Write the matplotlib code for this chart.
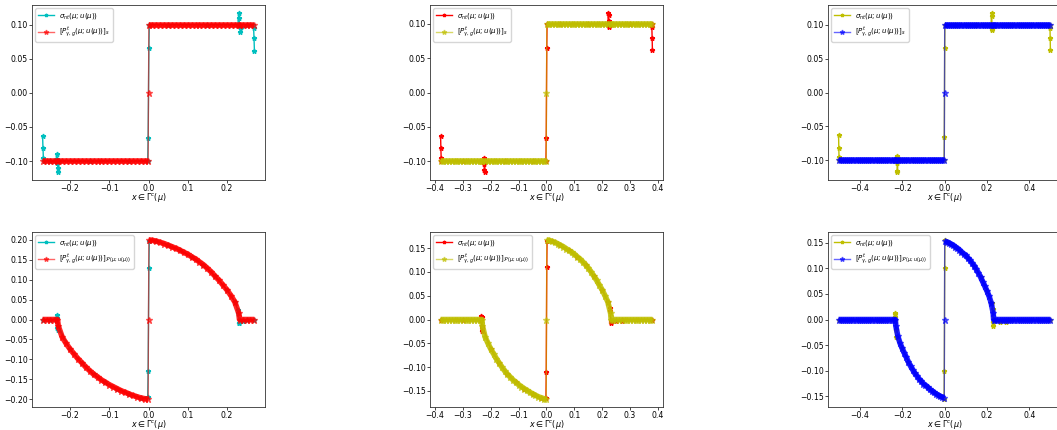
import matplotlib
matplotlib.use("Agg")
import matplotlib.pyplot as plt
from matplotlib.ticker import MultipleLocator

# ---------------- data ----------------
# x-grids of the projected quantity P (one per column, shared by both rows)
X1 = [-0.27, -0.26, -0.25, -0.24, -0.232,
      -0.23, -0.22, -0.21, -0.20, -0.19, -0.18, -0.17, -0.16, -0.15, -0.14, -0.13, -0.12,
      -0.11, -0.10, -0.09, -0.08, -0.07, -0.06, -0.05, -0.04, -0.03, -0.02, -0.01,
      -0.001, 0.0, 0.001,
      0.01, 0.02, 0.03, 0.04, 0.05, 0.06, 0.07, 0.08, 0.09, 0.10, 0.11, 0.12, 0.13,
      0.14, 0.15, 0.16, 0.17, 0.18, 0.19, 0.20, 0.21, 0.22, 0.23,
      0.232, 0.24, 0.25, 0.26, 0.27]
X2 = [-0.38, -0.37, -0.36, -0.35, -0.34, -0.33, -0.32, -0.31, -0.30, -0.29, -0.28, -0.27,
      -0.26, -0.25, -0.24, -0.232,
      -0.23, -0.22, -0.21, -0.20, -0.19, -0.18, -0.17, -0.16, -0.15, -0.14, -0.13, -0.12,
      -0.11, -0.10, -0.09, -0.08, -0.07, -0.06, -0.05, -0.04, -0.03, -0.02, -0.01,
      -0.001, 0.0, 0.001,
      0.01, 0.02, 0.03, 0.04, 0.05, 0.06, 0.07, 0.08, 0.09, 0.10, 0.11, 0.12, 0.13,
      0.14, 0.15, 0.16, 0.17, 0.18, 0.19, 0.20, 0.21, 0.22, 0.23,
      0.232, 0.24, 0.25, 0.26, 0.27, 0.28, 0.29, 0.30, 0.31, 0.32, 0.33, 0.34, 0.35,
      0.36, 0.37, 0.38]
X3 = [-0.50, -0.49, -0.48, -0.47, -0.46, -0.45, -0.44, -0.43, -0.42, -0.41, -0.40, -0.39,
      -0.38, -0.37, -0.36, -0.35, -0.34, -0.33, -0.32, -0.31, -0.30, -0.29, -0.28, -0.27,
      -0.26, -0.25, -0.24, -0.232,
      -0.23, -0.22, -0.21, -0.20, -0.19, -0.18, -0.17, -0.16, -0.15, -0.14, -0.13, -0.12,
      -0.11, -0.10, -0.09, -0.08, -0.07, -0.06, -0.05, -0.04, -0.03, -0.02, -0.01,
      -0.001, 0.0, 0.001,
      0.01, 0.02, 0.03, 0.04, 0.05, 0.06, 0.07, 0.08, 0.09, 0.10, 0.11, 0.12, 0.13,
      0.14, 0.15, 0.16, 0.17, 0.18, 0.19, 0.20, 0.21, 0.22, 0.23,
      0.232, 0.24, 0.25, 0.26, 0.27, 0.28, 0.29, 0.30, 0.31, 0.32, 0.33, 0.34, 0.35,
      0.36, 0.37, 0.38, 0.39, 0.40, 0.41, 0.42, 0.43, 0.44, 0.45, 0.46, 0.47, 0.48,
      0.49, 0.50]

# top row: projected value P (threshold +-0.1)
T1 = [-0.1, -0.1, -0.1, -0.1, -0.1,
      -0.1, -0.1, -0.1, -0.1, -0.1, -0.1, -0.1, -0.1, -0.1, -0.1, -0.1, -0.1,
      -0.1, -0.1, -0.1, -0.1, -0.1, -0.1, -0.1, -0.1, -0.1, -0.1, -0.1,
      -0.1, 0.0, 0.1,
      0.1, 0.1, 0.1, 0.1, 0.1, 0.1, 0.1, 0.1, 0.1, 0.1, 0.1, 0.1, 0.1,
      0.1, 0.1, 0.1, 0.1, 0.1, 0.1, 0.1, 0.1, 0.1, 0.1,
      0.1, 0.1, 0.1, 0.1, 0.1]
T2 = [-0.1, -0.1, -0.1, -0.1, -0.1, -0.1, -0.1, -0.1, -0.1, -0.1, -0.1, -0.1,
      -0.1, -0.1, -0.1, -0.1,
      -0.1, -0.1, -0.1, -0.1, -0.1, -0.1, -0.1, -0.1, -0.1, -0.1, -0.1, -0.1,
      -0.1, -0.1, -0.1, -0.1, -0.1, -0.1, -0.1, -0.1, -0.1, -0.1, -0.1,
      -0.1, 0.0, 0.1,
      0.1, 0.1, 0.1, 0.1, 0.1, 0.1, 0.1, 0.1, 0.1, 0.1, 0.1, 0.1, 0.1,
      0.1, 0.1, 0.1, 0.1, 0.1, 0.1, 0.1, 0.1, 0.1, 0.1,
      0.1, 0.1, 0.1, 0.1, 0.1, 0.1, 0.1, 0.1, 0.1, 0.1, 0.1, 0.1, 0.1,
      0.1, 0.1, 0.1]
T3 = [-0.1, -0.1, -0.1, -0.1, -0.1, -0.1, -0.1, -0.1, -0.1, -0.1, -0.1, -0.1,
      -0.1, -0.1, -0.1, -0.1, -0.1, -0.1, -0.1, -0.1, -0.1, -0.1, -0.1, -0.1,
      -0.1, -0.1, -0.1, -0.1,
      -0.1, -0.1, -0.1, -0.1, -0.1, -0.1, -0.1, -0.1, -0.1, -0.1, -0.1, -0.1,
      -0.1, -0.1, -0.1, -0.1, -0.1, -0.1, -0.1, -0.1, -0.1, -0.1, -0.1,
      -0.1, 0.0, 0.1,
      0.1, 0.1, 0.1, 0.1, 0.1, 0.1, 0.1, 0.1, 0.1, 0.1, 0.1, 0.1, 0.1,
      0.1, 0.1, 0.1, 0.1, 0.1, 0.1, 0.1, 0.1, 0.1, 0.1,
      0.1, 0.1, 0.1, 0.1, 0.1, 0.1, 0.1, 0.1, 0.1, 0.1, 0.1, 0.1, 0.1,
      0.1, 0.1, 0.1, 0.1, 0.1, 0.1, 0.1, 0.1, 0.1, 0.1, 0.1, 0.1, 0.1,
      0.1, 0.1]

# bottom row: projected value P (Coulomb-type curves)
B1 = [0, 0, 0, 0, 0,
      -0.016, -0.044, -0.060, -0.074, -0.086, -0.098, -0.108, -0.119, -0.128, -0.137, -0.144, -0.151,
      -0.157, -0.163, -0.168, -0.173, -0.178, -0.182, -0.186, -0.190, -0.193, -0.196, -0.198,
      -0.199, 0.0, 0.199,
      0.198, 0.196, 0.193, 0.190, 0.186, 0.182, 0.178, 0.173, 0.168, 0.163, 0.157, 0.151, 0.144,
      0.137, 0.128, 0.119, 0.108, 0.098, 0.086, 0.074, 0.060, 0.044, 0.016,
      0, 0, 0, 0, 0]
B2 = [0, 0, 0, 0, 0, 0, 0, 0, 0, 0, 0, 0,
      0, 0, 0, 0,
      -0.013, -0.037, -0.050, -0.062, -0.072, -0.082, -0.091, -0.100, -0.108, -0.115, -0.121, -0.127,
      -0.132, -0.137, -0.141, -0.145, -0.149, -0.153, -0.156, -0.159, -0.162, -0.164, -0.166,
      -0.167, 0.0, 0.167,
      0.166, 0.164, 0.162, 0.159, 0.156, 0.153, 0.149, 0.145, 0.141, 0.137, 0.132, 0.127, 0.121,
      0.115, 0.108, 0.100, 0.091, 0.082, 0.072, 0.062, 0.050, 0.037, 0.013,
      0, 0, 0, 0, 0, 0, 0, 0, 0, 0, 0, 0, 0,
      0, 0, 0]
B3 = [0, 0, 0, 0, 0, 0, 0, 0, 0, 0, 0, 0,
      0, 0, 0, 0, 0, 0, 0, 0, 0, 0, 0, 0,
      0, 0, 0, 0,
      -0.012, -0.033, -0.046, -0.056, -0.065, -0.074, -0.083, -0.091, -0.098, -0.105, -0.110, -0.116,
      -0.120, -0.125, -0.128, -0.132, -0.136, -0.139, -0.142, -0.145, -0.147, -0.150, -0.151,
      -0.152, 0.0, 0.152,
      0.151, 0.150, 0.147, 0.145, 0.142, 0.139, 0.136, 0.132, 0.128, 0.125, 0.120, 0.116, 0.110,
      0.105, 0.098, 0.091, 0.083, 0.074, 0.065, 0.056, 0.046, 0.033, 0.012,
      0, 0, 0, 0, 0, 0, 0, 0, 0, 0, 0, 0, 0,
      0, 0, 0, 0, 0, 0, 0, 0, 0, 0, 0, 0, 0,
      0, 0]

# exact sigma (drawn underneath); mostly hidden by P except its oscillations
S1T_x = [-0.27, -0.269, -0.268, -0.267, -0.25, -0.236, -0.234, -0.233, -0.232, -0.231, -0.230, -0.228,
         -0.15, -0.05, -0.002, -0.001, 0.001, 0.002, 0.05, 0.15,
         0.228, 0.230, 0.231, 0.232, 0.233, 0.234, 0.25, 0.267, 0.268, 0.269, 0.27]
S1T_y = [-0.063, -0.081, -0.095, -0.1, -0.1, -0.1, -0.09, -0.097, -0.103, -0.11, -0.116, -0.1,
         -0.1, -0.1, -0.1, -0.066, 0.065, 0.1, 0.1, 0.1,
         0.1, 0.117, 0.109, 0.1, 0.096, 0.089, 0.1, 0.1, 0.095, 0.08, 0.062]
S2T_x = [-0.38, -0.379, -0.378, -0.377, -0.3, -0.228, -0.226, -0.225, -0.224, -0.223, -0.222, -0.22,
         -0.15, -0.05, -0.002, -0.001, 0.001, 0.002, 0.05, 0.15,
         0.22, 0.222, 0.223, 0.224, 0.225, 0.226, 0.228, 0.3, 0.377, 0.378, 0.379, 0.38]
S2T_y = [-0.063, -0.081, -0.095, -0.1, -0.1, -0.1, -0.095, -0.097, -0.104, -0.113, -0.116, -0.1,
         -0.1, -0.1, -0.1, -0.066, 0.065, 0.1, 0.1, 0.1,
         0.1, 0.116, 0.113, 0.104, 0.097, 0.095, 0.1, 0.1, 0.1, 0.095, 0.08, 0.062]
S3T_x = [-0.5, -0.499, -0.498, -0.497, -0.3, -0.228, -0.226, -0.225, -0.224, -0.223, -0.222, -0.22,
         -0.15, -0.05, -0.002, -0.001, 0.001, 0.002, 0.05, 0.15,
         0.22, 0.222, 0.223, 0.224, 0.225, 0.226, 0.228, 0.3, 0.497, 0.498, 0.499, 0.5]
S3T_y = [-0.063, -0.081, -0.095, -0.1, -0.1, -0.1, -0.093, -0.095, -0.104, -0.115, -0.117, -0.1,
         -0.1, -0.1, -0.1, -0.066, 0.065, 0.1, 0.1, 0.1,
         0.1, 0.117, 0.112, 0.1, 0.094, 0.092, 0.1, 0.1, 0.1, 0.095, 0.08, 0.062]

S1B_x = [-0.27, -0.25, -0.236, -0.234, -0.233, -0.232, -0.231, -0.23, -0.2, -0.17, -0.14, -0.11,
         -0.08, -0.05, -0.02, -0.002, -0.001, 0.001, 0.002, 0.02, 0.05, 0.08, 0.11, 0.14, 0.17,
         0.2, 0.22, 0.228, 0.229, 0.23, 0.231, 0.232, 0.24, 0.25, 0.27]
S1B_y = [0, 0, 0, 0.011, 0.003, -0.021, -0.026, -0.016, -0.074, -0.108, -0.137, -0.157,
         -0.173, -0.186, -0.196, -0.195, -0.13, 0.13, 0.197, 0.196, 0.186, 0.173, 0.157, 0.137, 0.108,
         0.074, 0.044, 0.024, 0.016, -0.008, -0.01, -0.003, -0.003, 0, 0]
S2B_x = [-0.38, -0.3, -0.236, -0.234, -0.233, -0.232, -0.231, -0.23, -0.2, -0.17, -0.14, -0.11,
         -0.08, -0.05, -0.02, -0.002, -0.001, 0.001, 0.002, 0.02, 0.05, 0.08, 0.11, 0.14, 0.17,
         0.2, 0.22, 0.228, 0.229, 0.23, 0.231, 0.232, 0.25, 0.27, 0.272, 0.38]
S2B_y = [0, 0, 0, 0.008, 0.006, -0.018, -0.024, -0.013, -0.062, -0.091, -0.115, -0.132,
         -0.145, -0.156, -0.164, -0.165, -0.11, 0.11, 0.165, 0.164, 0.156, 0.145, 0.132, 0.115, 0.091,
         0.062, 0.037, 0.025, 0.018, -0.006, -0.008, -0.004, -0.004, -0.004, 0, 0]
S3B_x = [-0.5, -0.3, -0.236, -0.234, -0.233, -0.232, -0.231, -0.23, -0.2, -0.17, -0.14, -0.11,
         -0.08, -0.05, -0.02, -0.002, -0.001, 0.001, 0.002, 0.02, 0.05, 0.08, 0.11, 0.14, 0.17,
         0.2, 0.22, 0.226, 0.227, 0.228, 0.229, 0.23, 0.26, 0.29, 0.3, 0.5]
S3B_y = [0, 0, 0, 0.01, 0.012, 0.005, -0.02, -0.035, -0.056, -0.083, -0.105, -0.120,
         -0.132, -0.142, -0.150, -0.155, -0.10, 0.10, 0.155, 0.150, 0.142, 0.132, 0.120, 0.105, 0.083,
         0.056, 0.033, 0.033, 0.02, -0.005, -0.012, -0.005, -0.005, -0.005, 0, 0]

SIG_LABEL = r'$\sigma_{nt}(\mu; u(\mu))$'
P_LABEL_TOP = r'$[P^{t}_{\gamma,g}(\mu; u(\mu))]_{s}$'
P_LABEL_BOT = r'$[P^{t}_{\gamma,g}(\mu; u(\mu))]_{\mathcal{F}^{\prime}(\mu; u(\mu))}$'
XLABEL = r'$x \in \Gamma^{c}(\mu)$'

COLORS = [('c', 'r'), ('r', 'y'), ('y', 'b')]

panels = [
    # row, col, sig_x, sig_y, P_x, P_y, P label, x tick step, y tick step
    (0, 0, S1T_x, S1T_y, X1, T1, P_LABEL_TOP, 0.1, 0.05),
    (0, 1, S2T_x, S2T_y, X2, T2, P_LABEL_TOP, 0.1, 0.05),
    (0, 2, S3T_x, S3T_y, X3, T3, P_LABEL_TOP, 0.2, 0.05),
    (1, 0, S1B_x, S1B_y, X1, B1, P_LABEL_BOT, 0.1, 0.05),
    (1, 1, S2B_x, S2B_y, X2, B2, P_LABEL_BOT, 0.1, 0.05),
    (1, 2, S3B_x, S3B_y, X3, B3, P_LABEL_BOT, 0.2, 0.05),
]

# ---------------- layout ----------------
W, H = 1057, 430
fig = plt.figure(figsize=(W / 100, H / 100), dpi=100)
lefts = [32, 430, 828]
bottoms = [180, 407]
aw, ah = 233, 175

for row, col, sx, sy, px, py, plab, xs, ys in panels:
    assert len(sx) == len(sy) and len(px) == len(py), (row, col)
    ax = fig.add_axes([lefts[col] / W, (H - bottoms[row]) / H, aw / W, ah / H])
    csig, cp = COLORS[col]
    ax.plot(sx, sy, color=csig, marker='*', ms=3.5, lw=1.0, label=SIG_LABEL)
    # dense band of P markers (left and right of the jump at x = 0)
    i0 = px.index(0.0)
    for seg in (slice(0, i0), slice(i0 + 1, len(px))):
        ax.plot(px[seg], py[seg], color=cp, lw=4.0, alpha=0.85,
                solid_capstyle='butt', solid_joinstyle='round')
    ax.plot(px, py, color=cp, marker='*', ms=5.0, lw=1.0, alpha=0.6, label=plab)
    ax.xaxis.set_major_locator(MultipleLocator(xs))
    ax.yaxis.set_major_locator(MultipleLocator(ys))
    ax.tick_params(labelsize=5.6, length=2.2, width=0.5, pad=1.0)
    for sp in ax.spines.values():
        sp.set_linewidth(0.6)
        sp.set_color('#333333')
    ax.set_xlabel(XLABEL, fontsize=5.8, labelpad=-1.5)
    ax.legend(loc='upper left', fontsize=5.0, handlelength=2.2, borderpad=0.4,
              labelspacing=0.5, framealpha=0.8, markerscale=0.7)

fig.savefig('out.png', dpi=100)
